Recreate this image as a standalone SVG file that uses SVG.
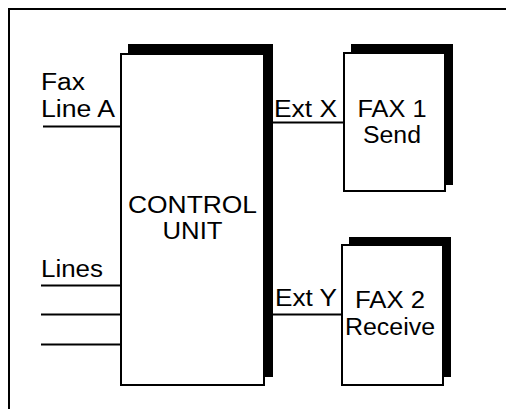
<svg xmlns="http://www.w3.org/2000/svg" width="506" height="409" viewBox="0 0 506 409">
<style>
.box{fill:#fff;stroke:#000;stroke-width:2}
.sh{fill:#000}
.ln{stroke:#000;stroke-width:2;fill:none}
text{font-family:"Liberation Sans",Arial,sans-serif;font-size:23px;fill:#000}
.c{text-anchor:middle}
</style>
<rect x="9" y="9" width="510" height="420" class="ln"/>
<g id="connectors">
<line x1="43" y1="126.5" x2="121" y2="126.5" class="ln"/>
<line x1="41" y1="285.5" x2="121" y2="285.5" class="ln"/>
<line x1="41" y1="314.5" x2="121" y2="314.5" class="ln"/>
<line x1="41" y1="344.5" x2="121" y2="344.5" class="ln"/>
<line x1="273" y1="122.5" x2="344" y2="122.5" class="ln"/>
<line x1="273" y1="314.5" x2="342" y2="314.5" class="ln"/>
</g>
<g id="control-unit">
<rect x="128" y="44" width="145" height="333" class="sh"/>
<rect x="121" y="54" width="143" height="331" class="box"/>
<text x="192.5" y="213" class="c" textLength="129" lengthAdjust="spacingAndGlyphs">CONTROL</text>
<text x="192.5" y="239" class="c" textLength="60" lengthAdjust="spacingAndGlyphs">UNIT</text>
</g>
<g id="fax1">
<rect x="351" y="44" width="102" height="141" class="sh"/>
<rect x="344" y="53" width="101" height="138" class="box"/>
<text x="392" y="117" class="c" textLength="69" lengthAdjust="spacingAndGlyphs">FAX 1</text>
<text x="392" y="143" class="c" textLength="58" lengthAdjust="spacingAndGlyphs">Send</text>
</g>
<g id="fax2">
<rect x="349" y="237" width="102" height="140" class="sh"/>
<rect x="342" y="245" width="101" height="140" class="box"/>
<text x="390" y="308" class="c" textLength="70" lengthAdjust="spacingAndGlyphs">FAX 2</text>
<text x="390" y="335" class="c" textLength="90" lengthAdjust="spacingAndGlyphs">Receive</text>
</g>
<g id="labels">
<text x="41" y="90" textLength="44" lengthAdjust="spacingAndGlyphs">Fax</text>
<text x="41" y="117" textLength="74" lengthAdjust="spacingAndGlyphs">Line A</text>
<text x="41" y="277" textLength="62" lengthAdjust="spacingAndGlyphs">Lines</text>
<text x="274" y="117" textLength="63" lengthAdjust="spacingAndGlyphs">Ext X</text>
<text x="275" y="306" textLength="62" lengthAdjust="spacingAndGlyphs">Ext Y</text>
</g>
</svg>
